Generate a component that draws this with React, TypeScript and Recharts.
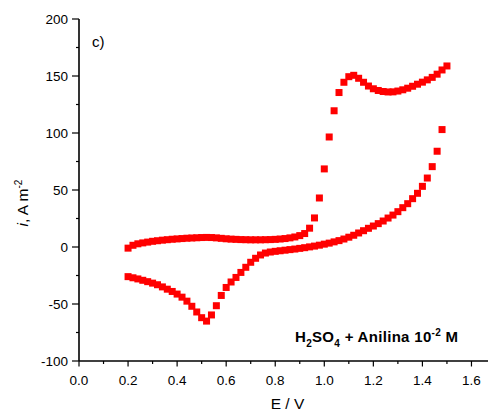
import React from "react";
import { ScatterChart, Scatter, XAxis, YAxis } from "recharts";

const forwardE = [
  0.2, 0.22, 0.24, 0.26, 0.28, 0.3, 0.32, 0.34, 0.36, 0.38, 0.4, 0.42, 0.44, 0.46, 0.48, 0.5,
  0.52, 0.54, 0.56, 0.58, 0.6, 0.62, 0.64, 0.66, 0.68, 0.7, 0.72, 0.74, 0.76, 0.78, 0.8, 0.82,
  0.84, 0.86, 0.88, 0.9, 0.92, 0.94, 0.96, 0.98, 1.0, 1.02, 1.04, 1.06, 1.08, 1.1, 1.12, 1.14,
  1.16, 1.18, 1.2, 1.22, 1.24, 1.26, 1.28, 1.3, 1.32, 1.34, 1.36, 1.38, 1.4, 1.42, 1.44, 1.46,
  1.48, 1.5,
];
const forwardI = [
  -1, 1.5, 2.8, 3.6, 4.3, 5.0, 5.5, 6.0, 6.4, 6.8, 7.1, 7.4, 7.7, 7.9, 8.1, 8.3,
  8.4, 8.3, 8.0, 7.6, 7.2, 6.9, 6.7, 6.5, 6.4, 6.3, 6.3, 6.3, 6.4, 6.5, 6.7, 7.0,
  7.4, 8.0, 8.8, 10.0, 11.8, 16.5, 25.5, 43, 68.5, 96.5, 119.5, 135.5, 144.5, 149.4, 150.6, 148,
  144.5, 141.2, 138.8, 137.3, 136.4, 136.0, 136.1, 136.8, 137.9, 139.3, 141.0, 142.8, 144.6, 146.6, 148.8, 151.6,
  155.3, 158.8,
];
const reverseE = [
  1.48, 1.46, 1.44, 1.42, 1.4, 1.38, 1.36, 1.34, 1.32, 1.3, 1.28, 1.26, 1.24, 1.22, 1.2, 1.18,
  1.16, 1.14, 1.12, 1.1, 1.08, 1.06, 1.04, 1.02, 1.0, 0.98, 0.96, 0.94, 0.92, 0.9, 0.88, 0.86,
  0.84, 0.82, 0.8, 0.78, 0.76, 0.74, 0.72, 0.7, 0.68, 0.66, 0.64, 0.62, 0.6, 0.58, 0.56, 0.54,
  0.52, 0.5, 0.48, 0.46, 0.44, 0.42, 0.4, 0.38, 0.36, 0.34, 0.32, 0.3, 0.28, 0.26, 0.24, 0.22,
  0.2,
];
const reverseI = [
  103, 84, 70.5, 60.5, 53.2, 47.1, 42.4, 38, 34.5, 31, 28, 25.4, 22.8, 20.5, 18.4, 16.4,
  14.3, 12.3, 10.3, 8.6, 7.0, 5.6, 4.5, 3.4, 2.5, 1.6, 0.8, 0.1, -0.6, -1.2, -1.8, -2.3,
  -2.8, -3.3, -3.8, -4.4, -5.3, -7.0, -9.9, -13.4, -17.8, -22.3, -26.7, -30.7, -35.5, -42.5, -51.5, -59.6,
  -65, -62, -57, -52, -47.5, -44, -41.3, -39, -37, -35, -33.1, -31.7, -30.4, -29.2, -28, -27,
  -26,
];

const xTicks = [0, 0.1, 0.2, 0.3, 0.4, 0.5, 0.6, 0.7, 0.8, 0.9, 1.0, 1.1, 1.2, 1.3, 1.4, 1.5, 1.6];
const yTicks = [-100, -75, -50, -25, 0, 25, 50, 75, 100, 125, 150, 175, 200];

const forwardData = forwardE.map((E, k) => ({ E, i: forwardI[k] }));
const reverseData = reverseE.map((E, k) => ({ E, i: reverseI[k] }));

const FONT = "'Liberation Sans', Arial, sans-serif";
const RED = "#ff0000";

const SquareMark = (props: any) => {
  const { cx, cy } = props;
  if (cx == null || cy == null) return null;
  return <rect x={cx - 3.5} y={cy - 3.5} width={7} height={7} fill={RED} />;
};

const XTick = (props: any) => {
  const { x, y, payload } = props;
  const v = payload.value as number;
  const major = Math.round(v * 10) % 2 === 0;
  return (
    <g>
      <line x1={x} x2={x} y1={y} y2={y + (major ? 5.5 : 3)} stroke="#000" strokeWidth={1.2} />
      {major && (
        <text x={x} y={y + 24} textAnchor="middle" fontFamily={FONT} fontSize={13.5} fill="#000">
          {v.toFixed(1)}
        </text>
      )}
    </g>
  );
};

const TopTick = (props: any) => {
  const { x, y } = props;
  return <line x1={x} x2={x} y1={y} y2={y - 2} stroke="#000" strokeWidth={1} />;
};

const YTick = (props: any) => {
  const { x, y, payload } = props;
  const v = payload.value as number;
  const major = v % 50 === 0;
  return (
    <g>
      <line x1={x} x2={x - (major ? 7 : 3)} y1={y} y2={y} stroke="#000" strokeWidth={1.2} />
      {major && (
        <text x={x - 11} y={y + 4.8} textAnchor="end" fontFamily={FONT} fontSize={13.5} fill="#000">
          {v}
        </text>
      )}
    </g>
  );
};

export default function App() {
  return (
    <div style={{ position: "absolute", left: 0, top: 0, width: 488, height: 411, overflow: "hidden", background: "#fff" }}>
      <ScatterChart width={496} height={411} margin={{ top: 19, right: 0, bottom: 0, left: 0 }}>
        <XAxis
          xAxisId="bottom"
          type="number"
          dataKey="E"
          domain={[0, 1.7]}
          ticks={xTicks}
          interval={0}
          height={50}
          tickSize={0}
          tickMargin={0}
          tickLine={false}
          tick={<XTick />}
          axisLine={{ stroke: "#000", strokeWidth: 1.6 }}
          allowDataOverflow
        />
        <XAxis
          xAxisId="top"
          orientation="top"
          type="number"
          dataKey="E"
          domain={[0, 1.7]}
          ticks={xTicks}
          interval={0}
          height={0}
          tickSize={0}
          tickMargin={0}
          tickLine={false}
          tick={<TopTick />}
          axisLine={{ stroke: "#000", strokeWidth: 1.6 }}
          allowDataOverflow
        />
        <YAxis
          type="number"
          dataKey="i"
          domain={[-100, 200]}
          ticks={yTicks}
          interval={0}
          width={79}
          tickSize={0}
          tickMargin={0}
          tickLine={false}
          tick={<YTick />}
          axisLine={{ stroke: "#000", strokeWidth: 1.6 }}
          allowDataOverflow
        />
        <Scatter xAxisId="bottom" data={forwardData} fill={RED} shape={<SquareMark />} isAnimationActive={false} />
        <Scatter xAxisId="bottom" data={reverseData} fill={RED} shape={<SquareMark />} isAnimationActive={false} />
      </ScatterChart>
      <svg width={488} height={411} style={{ position: "absolute", left: 0, top: 0, pointerEvents: "none" }}>
        <text x={92} y={47} fontFamily={FONT} fontSize={15} fill="#000">c)</text>
        <text x={295} y={342} fontFamily={FONT} fontSize={15} fontWeight="bold" fill="#000" textLength={163} lengthAdjust="spacing">
          H<tspan fontSize={10} dy={5}>2</tspan>
          <tspan dy={-5}>SO</tspan>
          <tspan fontSize={10} dy={5}>4</tspan>
          <tspan dy={-5}> + Anilina 10</tspan>
          <tspan fontSize={10} dy={-6}>-2</tspan>
          <tspan dy={6}> M</tspan>
        </text>
        <text x={287.5} y={409} textAnchor="middle" fontFamily={FONT} fontSize={15.5} fill="#000">E / V</text>
        <text transform="translate(28,203) rotate(-90)" textAnchor="middle" fontFamily={FONT} fontSize={15.5} fill="#000">
          <tspan fontStyle="italic">i</tspan>
          <tspan>, A m</tspan>
          <tspan fontSize={10} dy={-6}>-2</tspan>
        </text>
      </svg>
    </div>
  );
}
